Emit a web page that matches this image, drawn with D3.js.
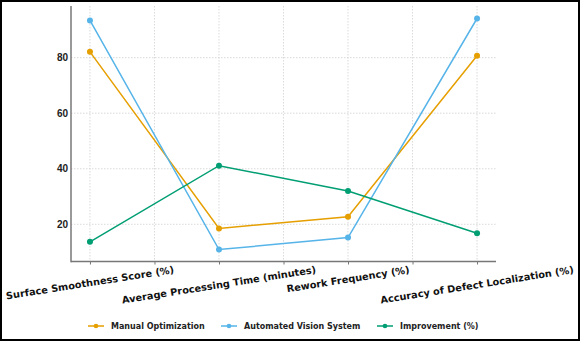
<!DOCTYPE html>
<html>
<head>
<meta charset="utf-8">
<script src="https://cdn.jsdelivr.net/npm/d3@7"></script>
<style>
  html, body { margin: 0; padding: 0; background: #fff; }
  svg { display: block; font-family: "DejaVu Sans", sans-serif; }
</style>
</head>
<body>
<svg id="chart" width="580" height="341"></svg>
<script>
// Metrics compared across the three measurement series
const categories = [
  "Surface Smoothness Score (%)",
  "Average Processing Time (minutes)",
  "Rework Frequency (%)",
  "Accuracy of Defect Localization (%)"
];
const manualOptimization = [82.1, 18.5, 22.7, 80.7];
const automatedVision = [93.4, 10.9, 15.2, 94.1];
const improvement = [13.7, 41.1, 32.0, 16.8];
const yTicks = [20, 40, 60, 80];

const seriesList = [
  { name: "Manual Optimization", values: manualOptimization, color: "#E69F00" },
  { name: "Automated Vision System", values: automatedVision, color: "#56B4E9" },
  { name: "Improvement (%)", values: improvement, color: "#009E73" }
];

const svg = d3.select("#chart");
const W = 580, H = 341;
const plot = { left: 71, right: 496, top: 6, bottom: 261.5 };

// Outer frame
svg.append("rect").attr("x", 1).attr("y", 1).attr("width", W - 2).attr("height", H - 2)
  .attr("fill", "#fff").attr("stroke", "#000").attr("stroke-width", 2);

const x = d3.scaleLinear().domain([-0.147, 3.147]).range([plot.left, plot.right]);
const y = d3.scaleLinear().domain([6.6, 98.6]).range([plot.bottom, plot.top]);

// Grid
const gridX = d3.range(0, 3.01, 0.5);
svg.append("g").selectAll("line").data(gridX).join("line")
  .attr("x1", d => x(d)).attr("x2", d => x(d))
  .attr("y1", plot.top).attr("y2", plot.bottom)
  .attr("stroke", "#d0d0d0").attr("stroke-width", 0.8).attr("stroke-dasharray", "1.5,1.5");
svg.append("g").selectAll("line").data(yTicks).join("line")
  .attr("x1", plot.left).attr("x2", plot.right)
  .attr("y1", d => y(d)).attr("y2", d => y(d))
  .attr("stroke", "#d0d0d0").attr("stroke-width", 0.8).attr("stroke-dasharray", "1.5,1.5");

// Axes
const yAxis = d3.axisLeft(y).tickValues(yTicks).tickSize(0).tickPadding(3).tickFormat(d3.format("d"));
const gy = svg.append("g").attr("transform", `translate(${plot.left},0)`).call(yAxis);
gy.select(".domain").remove();
gy.selectAll("text").attr("font-size", 10).attr("font-weight", "bold").attr("fill", "#222");

const xAxis = d3.axisBottom(x).tickValues(gridX).tickSize(3).tickFormat("");
const gx = svg.append("g").attr("transform", `translate(0,${plot.bottom})`).call(xAxis);
gx.select(".domain").remove();
gx.selectAll("line").attr("stroke", "#777").attr("stroke-width", 1);

svg.append("line").attr("x1", plot.left).attr("x2", plot.left)
  .attr("y1", plot.top).attr("y2", plot.bottom + 0.75)
  .attr("stroke", "#777").attr("stroke-width", 1.5);
svg.append("line").attr("x1", plot.left).attr("x2", plot.right)
  .attr("y1", plot.bottom).attr("y2", plot.bottom)
  .attr("stroke", "#777").attr("stroke-width", 1.5);

// Rotated category labels, bounding box tops aligned below the axis
const angle = -9;
const rad = Math.abs(angle) * Math.PI / 180;
const labelTop = 264;
const labels = svg.append("g").selectAll("text").data(categories).join("text")
  .attr("font-size", 9.8).attr("font-weight", "bold").attr("fill", "#111")
  .attr("text-anchor", "middle").attr("dominant-baseline", "central")
  .text(d => d);
labels.each(function (d, i) {
  const w = this.getComputedTextLength();
  const h = 11;
  const bh = w * Math.sin(rad) + h * Math.cos(rad);
  const cy = labelTop + bh / 2;
  d3.select(this).attr("transform", `translate(${x(i)},${cy}) rotate(${angle})`);
});

// Lines and markers
const line = d3.line().x((d, i) => x(i)).y(d => y(d));
seriesList.forEach(s => {
  svg.append("path").datum(s.values).attr("d", line)
    .attr("fill", "none").attr("stroke", s.color).attr("stroke-width", 1.5);
  svg.append("g").selectAll("circle").data(s.values).join("circle")
    .attr("cx", (d, i) => x(i)).attr("cy", d => y(d)).attr("r", 3)
    .attr("fill", s.color);
});

// Legend
const legendX = [88, 221, 377];
const legendY = 326;
const lg = svg.append("g");
seriesList.forEach((s, i) => {
  const g = lg.append("g").attr("transform", `translate(${legendX[i]},${legendY})`);
  g.append("line").attr("x1", 0).attr("x2", 16).attr("y1", 0).attr("y2", 0)
    .attr("stroke", s.color).attr("stroke-width", 1.5);
  g.append("circle").attr("cx", 8).attr("cy", 0).attr("r", 2.3).attr("fill", s.color);
  g.append("text").attr("x", 23).attr("y", 0).attr("dominant-baseline", "central")
    .attr("font-size", 8).attr("font-weight", "bold").attr("fill", "#222").text(s.name);
});
</script>
</body>
</html>
